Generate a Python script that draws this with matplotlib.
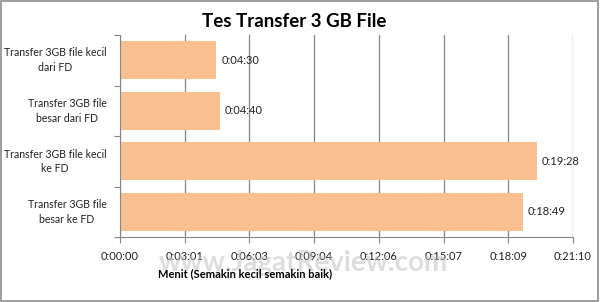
import matplotlib.pyplot as plt
from matplotlib.patches import Rectangle
import matplotlib.transforms as mtransforms
import numpy as np

plt.rcParams['font.family'] = ['Lato', 'DejaVu Sans']

# data (seconds)
labels = ['Transfer 3GB file kecil\ndari FD', 'Transfer 3GB file\nbesar dari FD',
          'Transfer 3GB file kecil\nke FD', 'Transfer 3GB file\nbesar ke FD']
times = ['0:04:30', '0:04:40', '0:19:28', '0:18:49']
xmax = 1270  # 0:21:10


def to_sec(t):
    h, m, s = [int(v) for v in t.split(':')]
    return h * 3600 + m * 60 + s


def fmt(sec):
    sec = int(round(sec))
    return '%d:%02d:%02d' % (sec // 3600, (sec % 3600) // 60, sec % 60)


vals = [to_sec(t) for t in times]

fig = plt.figure(figsize=(6, 3.02), dpi=100)
fig.patches.append(Rectangle((0.002, 0.004), 0.995, 0.993, transform=fig.transFigure,
                             fill=False, edgecolor='#8c8c8c', linewidth=1.2))
ax = fig.add_axes([0.2, 0.215, 0.755, 0.669])

y = np.arange(len(vals))
ax.barh(y, vals, height=0.76, color='#fac090', zorder=2)
for yi, v, t in zip(y, vals, times):
    ax.text(v + 14, yi, t, va='center', ha='left', fontsize=8, color='#222222')

# category labels: block right-aligned, lines centred among themselves
trans = mtransforms.blended_transform_factory(ax.transAxes, ax.transData)
for yi, lab in zip(y, labels):
    ax.text(-0.03, yi, lab, transform=trans, ha='right', va='center',
            multialignment='center', fontsize=7.6, color='#222222',
            linespacing=1.4)

ax.set_ylim(len(vals) - 0.5, -0.5)
ax.set_xlim(0, xmax)
xt = np.linspace(0, xmax, 8)
ax.set_xticks(xt)
ax.set_xticklabels([fmt(v) for v in xt], fontsize=8, color='#222222')
ax.set_yticks(np.arange(len(vals) + 1) - 0.5)
ax.set_yticklabels([])
ax.tick_params(axis='y', length=4, color='#868686')
ax.tick_params(axis='x', length=4, color='#868686', pad=6)
ax.grid(axis='x', color='#868686', linewidth=0.9, zorder=0)
for s in ['top', 'right']:
    ax.spines[s].set_visible(False)
for s in ['left', 'bottom']:
    ax.spines[s].set_color('#868686')

fig.text(0.49, 0.93, 'Tes Transfer 3 GB File', ha='center', va='center',
         fontsize=13.5, fontweight='bold')
fig.text(0.263, 0.095, 'Menit (Semakin kecil semakin baik)', fontsize=8,
         fontweight='bold', ha='left', va='center')
fig.text(0.505, 0.13, 'www.JagatReview.com', fontsize=20, color='#bdbdbd',
         alpha=0.5, ha='center', va='center', fontweight='bold', zorder=0)

fig.savefig('out.png', dpi=100)
